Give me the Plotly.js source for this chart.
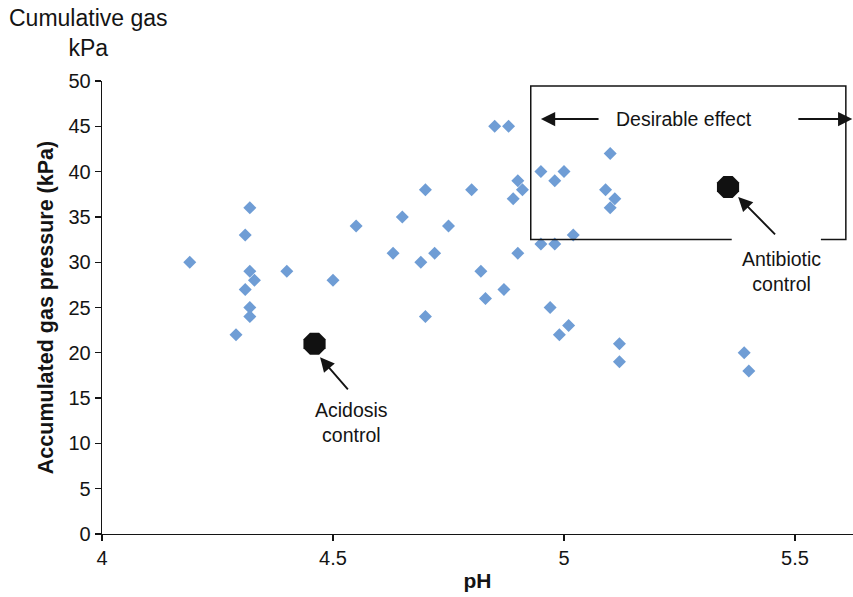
<!DOCTYPE html>
<html>
<head>
<meta charset="utf-8">
<script src="https://cdn.plot.ly/plotly-3.0.1.min.js"></script>
<style>
  html, body { margin: 0; padding: 0; background: #fff; }
  #chart { width: 853px; height: 597px; }
</style>
</head>
<body>
<div id="chart"></div>
<script>
// ---- data ----
const samplePH = [4.19, 4.32, 4.31, 4.32, 4.31, 4.33, 4.32, 4.32, 4.29, 4.40,
                  4.50, 4.55, 4.63, 4.65, 4.69, 4.70, 4.70, 4.72, 4.75, 4.80,
                  4.82, 4.83, 4.85, 4.87, 4.88, 4.89, 4.90, 4.91, 4.90, 4.95,
                  4.95, 4.97, 4.98, 4.98, 4.99, 5.00, 5.01, 5.02, 5.09, 5.10,
                  5.11, 5.10, 5.12, 5.12, 5.39, 5.40];
const sampleGas = [30, 36, 33, 29, 27, 28, 25, 24, 22, 29,
                   28, 34, 31, 35, 30, 38, 24, 31, 34, 38,
                   29, 26, 45, 27, 45, 37, 39, 38, 31, 40,
                   32, 25, 39, 32, 22, 40, 23, 33, 38, 42,
                   37, 36, 21, 19, 20, 18];
const controlNames = ["Acidosis control", "Antibiotic control"];
const controlPH = [4.46, 5.355];
const controlGas = [21, 38.3];
const xTicks = [4, 4.5, 5, 5.5];
const xTickLabels = ["4", "4.5", "5", "5.5"];
const yTicks = [0, 5, 10, 15, 20, 25, 30, 35, 40, 45, 50];

// ---- chart ----
const FONT = "Liberation Sans, Arial, Helvetica, sans-serif";
const INK = "#141414";

const traces = [
  {
    type: "scatter", mode: "markers", name: "Samples",
    x: samplePH, y: sampleGas,
    marker: { symbol: "diamond", size: 10, color: "#6f9dd5" },
    cliponaxis: false, hoverinfo: "x+y"
  },
  {
    type: "scatter", mode: "markers", name: "Controls",
    x: controlPH, y: controlGas, text: controlNames,
    marker: { symbol: "octagon", size: 24, color: "#111111" },
    cliponaxis: false
  }
];

// box around the desirable region (gap in bottom edge for the label)
const bx0 = 4.928, bx1 = 5.61, by0 = 32.5, by1 = 49.45, gapL = 5.363, gapR = 5.556;

const arrow = (hx, hy, tx, ty) => ({
  x: hx, y: hy, ax: tx, ay: ty, xref: "x", yref: "y", axref: "x", ayref: "y",
  text: "", showarrow: true, arrowhead: 2, arrowsize: 1.5, arrowwidth: 1.9, arrowcolor: INK,
  standoff: 0, startstandoff: 0
});

const layout = {
  width: 853, height: 597,
  margin: { l: 102, r: 0, t: 81, b: 63, pad: 0 },
  paper_bgcolor: "#ffffff", plot_bgcolor: "#ffffff",
  showlegend: false,
  font: { family: FONT, size: 20, color: INK },
  xaxis: {
    range: [4, 5.6255], tickvals: xTicks, ticktext: xTickLabels,
    showgrid: false, zeroline: false, showline: true, linecolor: INK, linewidth: 1.3,
    ticks: "outside", ticklen: 6, tickcolor: INK, tickwidth: 1.3,
    tickfont: { family: FONT, size: 20, color: INK },
    title: { text: "<b>pH</b>", font: { family: FONT, size: 21, color: INK }, standoff: 5 },
    automargin: false
  },
  yaxis: {
    range: [0, 50], tickvals: yTicks,
    showgrid: false, zeroline: false, showline: true, linecolor: INK, linewidth: 1.3,
    ticks: "outside", ticklen: 6, tickcolor: INK, tickwidth: 1.3,
    tickfont: { family: FONT, size: 20, color: INK },
    title: { text: "<b>Accumulated gas pressure (kPa)</b>", font: { family: FONT, size: 21.5, color: INK }, standoff: 9 },
    automargin: false
  },
  shapes: [
    {
      type: "path", xref: "x", yref: "y",
      path: `M ${gapR},${by0} L ${bx1},${by0} L ${bx1},${by1} L ${bx0},${by1} L ${bx0},${by0} L ${gapL},${by0}`,
      line: { color: INK, width: 1.5 }
    },
    {
      type: "line", xref: "paper", yref: "paper", x0: 0, x1: 0, y0: 0, y1: -0.014,
      line: { color: INK, width: 1.3 }
    }
  ],
  annotations: [
    {
      text: "Cumulative gas<br>kPa", xref: "paper", yref: "paper",
      x: -0.0186, y: 1.105, xanchor: "center", yanchor: "middle",
      showarrow: false, font: { family: FONT, size: 23, color: INK }
    },
    {
      text: "Desirable effect", xref: "x", yref: "y", x: 5.26, y: 45.8,
      xanchor: "center", yanchor: "middle", showarrow: false,
      font: { family: FONT, size: 19.5, color: INK }
    },
    arrow(4.950, 45.8, 5.078, 45.8),
    arrow(5.624, 45.8, 5.504, 45.8),
    {
      text: "Antibiotic<br>control", xref: "x", yref: "y", x: 5.471, y: 29.0,
      xanchor: "center", yanchor: "middle", showarrow: false,
      font: { family: FONT, size: 19.5, color: INK }
    },
    arrow(5.377, 37.2, 5.46, 32.9),
    {
      text: "Acidosis<br>control", xref: "x", yref: "y", x: 4.540, y: 12.36,
      xanchor: "center", yanchor: "middle", showarrow: false,
      font: { family: FONT, size: 19.5, color: INK }
    },
    arrow(4.472, 19.5, 4.535, 15.8)
  ]
};

Plotly.newPlot("chart", traces, layout, { staticPlot: true, displayModeBar: false });
</script>
</body>
</html>
